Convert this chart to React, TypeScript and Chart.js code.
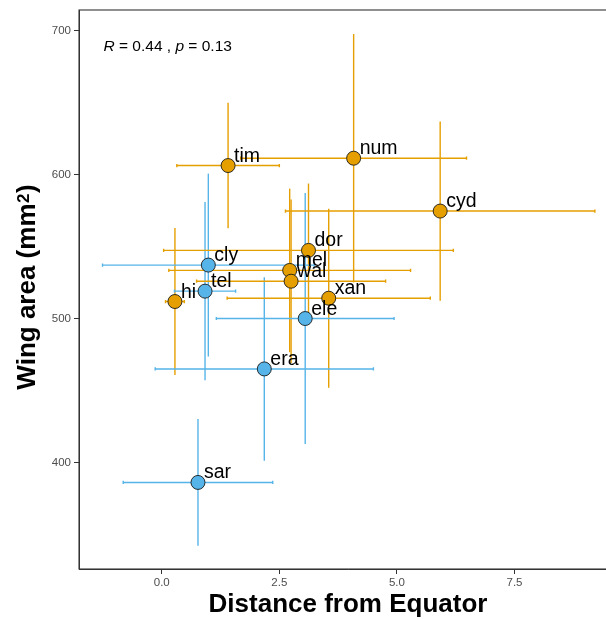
import React, { useEffect, useRef } from "react";
import { Chart, registerables } from "chart.js";

Chart.register(...registerables);

// ---- data ----
const species = ["tim", "num", "cyd", "dor", "mel", "wal", "xan", "hi", "cly", "tel", "ele", "era", "sar"];
const groups = ["orange", "orange", "orange", "orange", "orange", "orange", "orange", "orange", "blue", "blue", "blue", "blue", "blue"];
const distance = [1.41, 4.08, 5.92, 3.12, 2.72, 2.75, 3.55, 0.28, 0.99, 0.92, 3.05, 2.18, 0.77];
const distanceErr = [1.09, 2.4, 3.29, 3.08, 2.57, 2.01, 2.16, 0.2, 2.25, 0.65, 1.89, 2.32, 1.59];
const wingArea = [606.4, 611.5, 574.8, 547.5, 533.6, 526.1, 514.3, 512.0, 537.3, 519.2, 500.2, 465.2, 386.4];
const wingAreaErr = [43.6, 86.2, 62.2, 46.4, 56.8, 56.7, 62.1, 51.0, 63.5, 61.9, 87.1, 63.7, 44.0];
const xTicks = [0, 2.5, 5, 7.5];
const yTicks = [400, 500, 600, 700];
const statR = "0.44";
const statP = "0.13";

// ---- style ----
const COLORS: Record<string, string> = { orange: "#E69F00", blue: "#56B4E9" };
const FONT = "'Liberation Sans', Arial, Helvetica, sans-serif";

const overlay = {
  id: "overlay",
  beforeDatasetsDraw(chart: any) {
    const { ctx, scales } = chart;
    const x = scales.x;
    const y = scales.y;
    ctx.save();
    ctx.lineWidth = 1.4;
    species.forEach((_, i) => {
      ctx.strokeStyle = COLORS[groups[i]];
      const px = x.getPixelForValue(distance[i]);
      const py = y.getPixelForValue(wingArea[i]);
      const y0 = y.getPixelForValue(wingArea[i] - wingAreaErr[i]);
      const y1 = y.getPixelForValue(wingArea[i] + wingAreaErr[i]);
      ctx.beginPath();
      ctx.moveTo(px, y0);
      ctx.lineTo(px, y1);
      ctx.stroke();
    });
    species.forEach((_, i) => {
      ctx.strokeStyle = COLORS[groups[i]];
      const py = y.getPixelForValue(wingArea[i]);
      const x0 = x.getPixelForValue(distance[i] - distanceErr[i]);
      const x1 = x.getPixelForValue(distance[i] + distanceErr[i]);
      ctx.beginPath();
      ctx.moveTo(x0, py);
      ctx.lineTo(x1, py);
      ctx.moveTo(x0, py - 1.6);
      ctx.lineTo(x0, py + 1.6);
      ctx.moveTo(x1, py - 1.6);
      ctx.lineTo(x1, py + 1.6);
      ctx.stroke();
    });
    ctx.restore();
  },
  afterDatasetsDraw(chart: any) {
    const { ctx, scales } = chart;
    const x = scales.x;
    const y = scales.y;
    ctx.save();
    ctx.fillStyle = "#000";
    ctx.font = `19.5px ${FONT}`;
    ctx.textAlign = "left";
    ctx.textBaseline = "alphabetic";
    species.forEach((name, i) => {
      const px = x.getPixelForValue(distance[i]);
      const py = y.getPixelForValue(wingArea[i]);
      ctx.fillText(name, px + 6, py - 4);
    });
    ctx.restore();
  },
  afterDraw(chart: any) {
    const { ctx, chartArea } = chart;
    ctx.save();
    // panel border
    ctx.strokeStyle = "#333333";
    ctx.lineWidth = 1.1;
    ctx.strokeRect(chartArea.left, chartArea.top, chartArea.right - chartArea.left, chartArea.bottom - chartArea.top);

    // stats annotation
    ctx.fillStyle = "#000";
    ctx.textBaseline = "alphabetic";
    ctx.textAlign = "left";
    const parts: [string, boolean][] = [
      ["R", true],
      [" = " + statR + " , ", false],
      ["p", true],
      [" = " + statP, false],
    ];
    let tx = 103.5;
    parts.forEach(([t, it]) => {
      ctx.font = `${it ? "italic " : ""}15.5px ${FONT}`;
      ctx.fillText(t, tx, 51);
      tx += ctx.measureText(t).width;
    });

    // x title
    ctx.font = `bold 26px ${FONT}`;
    ctx.textAlign = "center";
    ctx.fillText("Distance from Equator", (chartArea.left + chartArea.right) / 2, 611.5);

    // y title
    ctx.translate(35, (chartArea.top + chartArea.bottom) / 2 - 2);
    ctx.rotate(-Math.PI / 2);
    ctx.textAlign = "left";
    const main = "Wing area (mm";
    const sup = "2";
    const close = ")";
    ctx.font = `bold 26px ${FONT}`;
    const w1 = ctx.measureText(main).width;
    const w3 = ctx.measureText(close).width;
    ctx.font = `bold 17px ${FONT}`;
    const w2 = ctx.measureText(sup).width;
    const start = -(w1 + w2 + w3) / 2;
    ctx.font = `bold 26px ${FONT}`;
    ctx.fillText(main, start, 0);
    ctx.fillText(close, start + w1 + w2 + 1, 0);
    ctx.font = `bold 17px ${FONT}`;
    ctx.fillText(sup, start + w1 + 0.5, -6);
    ctx.restore();
  },
};

export default function App() {
  const ref = useRef<HTMLCanvasElement | null>(null);
  useEffect(() => {
    if (!ref.current) return;
    const mk = (g: string) =>
      species
        .map((_, i) => i)
        .filter((i) => groups[i] === g)
        .map((i) => ({ x: distance[i], y: wingArea[i] }));
    const chart = new Chart(ref.current, {
      type: "scatter",
      data: {
        datasets: ["orange", "blue"].map((g) => ({
          label: g,
          data: mk(g),
          backgroundColor: COLORS[g],
          borderColor: "#1a1a1a",
          borderWidth: 0.9,
          pointRadius: 7,
          pointHoverRadius: 7,
        })),
      },
      options: {
        responsive: false,
        animation: false,
        events: [],
        layout: { padding: { left: 0, top: 10, right: 13, bottom: 0 } },
        plugins: { legend: { display: false }, tooltip: { enabled: false }, title: { display: false } },
        scales: {
          x: {
            type: "linear",
            min: -1.76,
            max: 9.68,
            afterFit: (s: any) => {
              s.height = 50;
            },
            afterBuildTicks: (s: any) => {
              s.ticks = xTicks.map((v) => ({ value: v }));
            },
            ticks: {
              callback: (v: any) => Number(v).toFixed(1),
              color: "#4D4D4D",
              font: { family: FONT, size: 11.5 },
              padding: 2,
              maxRotation: 0,
            },
            grid: { drawOnChartArea: false, drawTicks: true, tickLength: 5, tickColor: "#333333", tickWidth: 1 },
            border: { display: true, color: "#333333", width: 1 },
          },
          y: {
            type: "linear",
            min: 326.3,
            max: 714.4,
            afterFit: (s: any) => {
              s.width = 79;
            },
            afterBuildTicks: (s: any) => {
              s.ticks = yTicks.map((v) => ({ value: v }));
            },
            ticks: {
              callback: (v: any) => String(v),
              color: "#4D4D4D",
              font: { family: FONT, size: 11.5 },
              padding: 3,
            },
            grid: { drawOnChartArea: false, drawTicks: true, tickLength: 5, tickColor: "#333333", tickWidth: 1 },
            border: { display: true, color: "#333333", width: 1 },
          },
        },
      },
      plugins: [overlay],
    } as any);
    return () => chart.destroy();
  }, []);

  return (
    <div
      style={{
        position: "fixed",
        left: 0,
        top: 0,
        width: 606,
        height: 619,
        overflow: "hidden",
        background: "#ffffff",
      }}
    >
      <canvas ref={ref} width={630} height={619} style={{ display: "block" }} />
    </div>
  );
}
